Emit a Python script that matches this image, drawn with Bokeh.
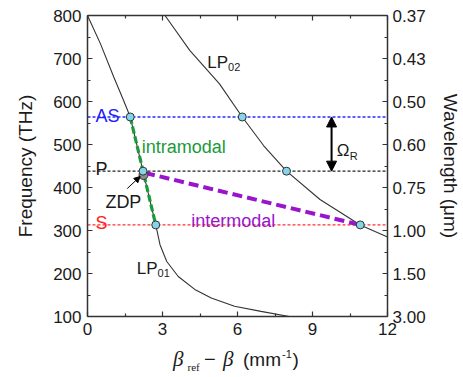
from bokeh.plotting import figure
from bokeh.layouts import column
from bokeh.models import LinearAxis, FixedTicker, Label, Arrow, NormalHead, Div
from bokeh.embed import file_html
from bokeh.resources import INLINE

# ---------------- data ----------------
lp01_x = [0.0, 0.52, 1.05, 1.44, 1.71, 2.22, 2.73, 2.90, 3.17, 3.63, 4.29, 4.95, 5.88, 6.94, 8.07]
lp01_y = [800, 734, 657, 603, 564, 438, 313, 267, 228, 193, 163, 143, 124, 112, 100]

lp02_x = [3.10, 4.09, 5.28, 6.19, 7.05, 7.96, 9.30, 10.91, 12.0]
lp02_y = [800, 719, 641, 564, 497, 438, 372, 313, 285]

f_as, f_p, f_s = 564, 438, 313           # anti-Stokes, pump, Stokes (THz)
pts_x = [1.71, 6.19, 2.22, 7.96, 2.73, 10.91]
pts_y = [f_as, f_as, f_p, f_p, f_s, f_s]
zdp_x, zdp_y = [2.24], [429]

intra_x = [1.71, 2.73]
intra_y = [f_as, f_s]
inter_x = [2.30, 10.91]
inter_y = [434, f_s]

x_ticks = [0, 3, 6, 9, 12]
x_minor = [1.5, 4.5, 7.5, 10.5]
f_ticks = [100, 200, 300, 400, 500, 600, 700, 800]
f_minor = [150, 250, 350, 450, 550, 650, 750]
wl_labels = ["3.00", "1.50", "1.00", "0.75", "0.60", "0.50", "0.43", "0.37"]

# ---------------- layout (page px) ----------------
W, H_FIG, H_TOT = 463, 345, 377
FL, FR, FT, FB = 87, 389, 15, 316
def X(px):
    return (px - FL) / (FR - FL) * 12.0
def Y(py):
    return 800 - (py - FT) / (FB - FT) * 700.0

SANS = "Liberation Sans"
SERIF = "Liberation Serif"
INK = "#1a1a1a"

p = figure(width=W, height=H_FIG,
           x_range=(0, 12), y_range=(100, 800),
           min_border_left=FL, min_border_top=FT,
           min_border_right=W - FR, min_border_bottom=H_FIG - FB,
           output_backend="svg", toolbar_location=None,
           background_fill_color="white", border_fill_color="white")
p.outline_line_color = None
p.xgrid.visible = False
p.ygrid.visible = False

def style_axis(ax, labels=True):
    ax.axis_line_color = "#333333"
    ax.axis_line_width = 1.5
    ax.major_tick_line_color = "#333333"
    ax.minor_tick_line_color = "#333333"
    ax.major_tick_line_width = 1.2
    ax.minor_tick_line_width = 1.2
    ax.major_tick_in = 5
    ax.major_tick_out = 0
    ax.minor_tick_in = 3
    ax.minor_tick_out = 0
    ax.major_label_text_font = SANS
    ax.major_label_text_color = INK
    ax.axis_label_text_font = SANS
    ax.axis_label_text_font_style = "normal"
    ax.axis_label_text_font_size = "19px"
    ax.axis_label_text_color = INK
    if labels:
        ax.major_label_text_font_size = "17px"
    else:
        ax.major_label_text_alpha = 0
        ax.major_label_text_font_size = "1px"
        ax.major_label_standoff = 0

p.xaxis.ticker = FixedTicker(ticks=x_ticks, minor_ticks=x_minor)
p.yaxis.ticker = FixedTicker(ticks=f_ticks, minor_ticks=f_minor)
style_axis(p.xaxis[0])
style_axis(p.yaxis[0])
p.xaxis.major_label_standoff = 6
p.yaxis.major_label_standoff = 6
p.yaxis.axis_label = "Frequency (THz)"
p.yaxis.axis_label_standoff = 14

top = LinearAxis(ticker=FixedTicker(ticks=x_ticks, minor_ticks=x_minor))
style_axis(top, labels=False)
p.add_layout(top, "above")

right = LinearAxis(ticker=FixedTicker(ticks=f_ticks, minor_ticks=f_minor),
                   major_label_overrides={t: l for t, l in zip(f_ticks, wl_labels)},
                   axis_label="Wavelength (\u03bcm)")
style_axis(right)
right.major_label_standoff = 5
right.axis_label_standoff = 11
p.add_layout(right, "right")

# ---------------- reference lines ----------------
p.line([0, 12], [f_as, f_as], line_color="#2a2aff", line_width=1.3, line_dash="3 2")
p.line([0, 12], [f_p, f_p], line_color="#222222", line_width=1.3, line_dash="3 2")
p.line([0, 12], [f_s, f_s], line_color="#ff3030", line_width=1.3, line_dash="3 2")

# ---------------- mode curves ----------------
p.line(lp01_x, lp01_y, line_color="#333333", line_width=1.1)
p.line(lp02_x, lp02_y, line_color="#333333", line_width=1.1)

p.line(intra_x, intra_y, line_color="#1a9a3a", line_width=3.2, line_dash="7 3")
p.line(inter_x, inter_y, line_color="#9a14cc", line_width=4, line_dash="10 5")

p.scatter(zdp_x, zdp_y, size=9, fill_color="#8c8c8c", line_color="#333333", line_width=1)
p.scatter(pts_x, pts_y, size=8, fill_color="#86d4ea", line_color="#333333", line_width=1)

# ---------------- arrows ----------------
p.add_layout(Arrow(start=NormalHead(size=10, fill_color="black", line_color="black"),
                   end=NormalHead(size=10, fill_color="black", line_color="black"),
                   x_start=X(332.7), y_start=f_p, x_end=X(332.7), y_end=f_as,
                   line_color="black", line_width=2))
p.add_layout(Arrow(end=NormalHead(size=6, fill_color="black", line_color="black"),
                   x_start=X(127), y_start=Y(188), x_end=X(140), y_end=Y(176),
                   line_color="black", line_width=1))

# ---------------- texts inside the frame ----------------
def lab(px, py, text, size, color=INK, font=SANS):
    p.add_layout(Label(x=X(px), y=Y(py), text=text, text_font=font,
                       text_font_size=f"{size}px", text_color=color,
                       text_align="left", text_baseline="alphabetic"))

lab(95, 115, "AS", 18, color="#2020ff")
lab(95, 168, "P", 18)
lab(95, 222, "S", 18, color="#ff2020")
lab(141.5, 146.5, "intramodal", 18, color="#1a9a3a")
lab(191.5, 220, "intermodal", 18, color="#9a14cc")
lab(207.5, 62, "LP", 17)
lab(228.5, 66.5, "02", 11)
lab(136.5, 268, "LP", 17)
lab(157.5, 272.5, "01", 11)
lab(105, 201.5, "ZDP", 18)
lab(338, 150, "\u03a9", 17)
lab(351, 155, "R", 11)

# ---------------- x-axis title (mixed fonts) ----------------
def span(left, top, text, size, font=SANS, italic=False):
    st = (f"position:absolute;left:{left}px;top:{top}px;font-family:'{font}';"
          f"font-size:{size}px;line-height:1;white-space:nowrap;color:{INK};"
          f"font-style:{'italic' if italic else 'normal'}")
    return f'<span style="{st}">{text}</span>'

xlabel_html = (
    '<div style="position:relative;width:463px;height:32px;">'
    + span(173, 3.5, "\u03b2", 21, SERIF, True)
    + span(187.5, 16.5, "ref", 11, SERIF)
    + span(204, 4, "\u2212", 20)
    + span(223, 3.5, "\u03b2", 21, SERIF, True)
    + span(243, 5, "(mm", 19)
    + span(282, 4, "-1", 11)
    + span(292.5, 5, ")", 19)
    + '</div>'
)
xlabel = Div(text=xlabel_html, width=W, height=H_TOT - H_FIG, margin=(0, 0, 0, 0))

layout = column(p, xlabel, spacing=0)
open("out.html", "w").write(file_html(layout, INLINE))
